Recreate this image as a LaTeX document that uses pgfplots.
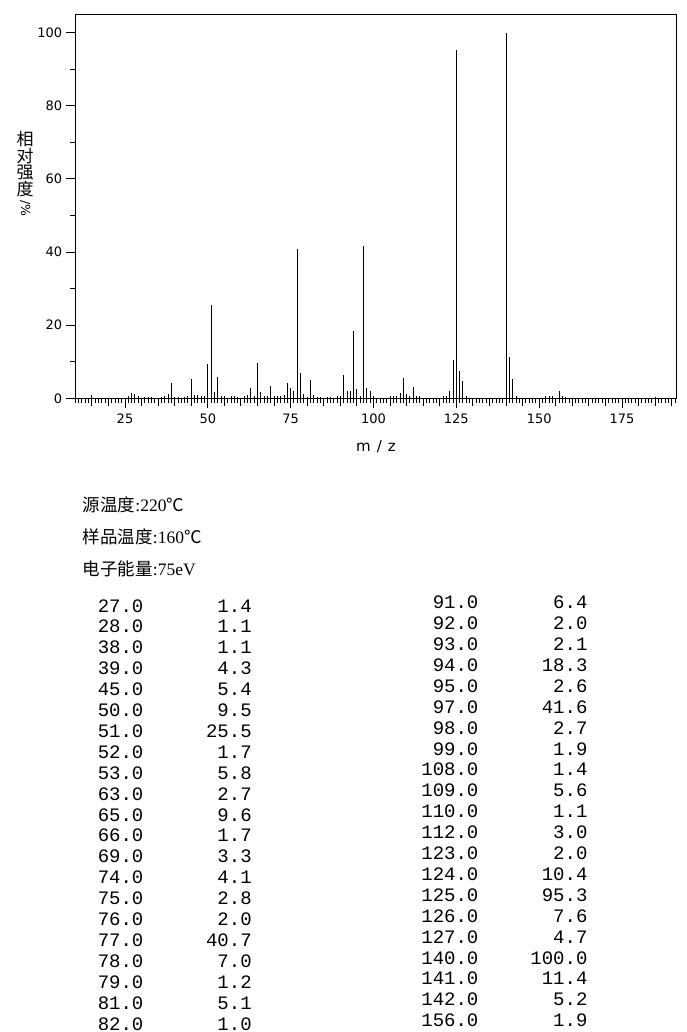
\documentclass[border=0pt]{standalone}
\usepackage{pgfplots}
\pgfplotsset{compat=1.18}
\usepackage{fontspec}
\setmainfont{DejaVu Sans}
\newfontfamily\cjk{Noto Sans CJK SC}
\newfontfamily\serif{Liberation Serif}
\newfontfamily\mono{Liberation Mono}

\pgfplotstableread{
mz  int
15 0.9
26 0.5
27 1.4
28 1.1
29 0.5
31 0.4
32 0.4
33 0.3
36 0.3
37 0.5
38 1.1
39 4.3
40 0.4
41 0.3
43 0.3
44 0.6
45 5.4
46 0.8
47 0.8
48 0.5
49 0.6
50 9.5
51 25.5
52 1.7
53 5.8
54 0.5
55 0.5
57 0.6
58 0.5
59 0.4
61 0.5
62 0.8
63 2.7
64 0.7
65 9.6
66 1.7
67 0.7
68 0.7
69 3.3
70 0.7
71 0.5
72 0.5
73 0.8
74 4.1
75 2.8
76 2.0
77 40.7
78 7.0
79 1.2
80 0.3
81 5.1
82 1.0
83 0.4
84 0.4
86 0.3
87 0.4
89 0.6
90 0.6
91 6.4
92 2.0
93 2.1
94 18.3
95 2.6
96 0.6
97 41.6
98 2.7
99 1.9
100 0.5
105 0.5
106 0.5
107 0.5
108 1.4
109 5.6
110 1.1
111 0.5
112 3.0
113 0.5
114 0.5
121 0.5
122 0.6
123 2.0
124 10.4
125 95.3
126 7.6
127 4.7
128 0.5
140 100
141 11.4
142 5.2
143 0.6
152 0.5
153 0.6
154 0.6
156 1.9
157 0.5
158 0.4
185 0.4
}\spectrum

\begin{document}
\begin{tikzpicture}[x=1pt,y=1pt]
\path[use as bounding box] (0,0) rectangle (687,-1032);
\begin{axis}[
  scale only axis,
  width=601.4pt, height=384pt,
  at={(75.3pt,-398.3pt)}, anchor=south west,
  xmin=10, xmax=191.5, ymin=0, ymax=105,
  axis line style={line width=1pt},
  every tick/.style={black, line width=1pt},
  xtick pos=bottom, ytick pos=left,
  tick align=outside,
  xtick={25,50,75,100,125,150,175},
  minor xtick={10,11,...,191},
  extra x ticks={15,20,30,35,40,45,55,60,65,70,80,85,90,95,105,110,115,120,130,135,140,145,155,160,165,170,180,185,190},
  extra x tick labels={},
  extra x tick style={major tick length=7.5pt},
  ytick={0,20,40,60,80,100},
  minor y tick num=1,
  major tick length=9.5pt,
  minor tick length=5pt,
  /pgf/number format/assume math mode=true,
  ticklabel style={font=\fontsize{13}{15}\selectfont},
  xticklabel style={yshift=-3pt},
  xlabel={m\hspace{6pt}/\hspace{6pt}z},
  xlabel style={font=\fontsize{15}{17}\selectfont, at={(axis description cs:0.5,0)}, anchor=base, yshift=-52.7pt},
  ylabel={\cjk 相\\\cjk 对\\\cjk 强\\\cjk 度\\\rotatebox[origin=c]{-90}{\fontsize{12.5}{12.5}\selectfont /\%}},
  ylabel style={rotate=-90, align=center, font=\fontsize{17}{16.8}\selectfont, at={(axis description cs:-0.0835,0.585)}, anchor=center},
]
\addplot[ycomb, black, line width=1pt, mark=none] table[x=mz, y=int] {\spectrum};
\end{axis}

\begin{scope}[every node/.style={inner sep=0pt, anchor=base west}]
\node at (82.7,-511) {\fontsize{17.5}{19}\selectfont\cjk 源温度\serif :220\cjk ℃};
\node at (82.7,-543) {\fontsize{17.5}{19}\selectfont\cjk 样品温度\serif :160\cjk ℃};
\node at (82.7,-575) {\fontsize{17.5}{19}\selectfont\cjk 电子能量\serif :75eV};
\end{scope}

\begin{scope}[every node/.style={inner sep=0pt, anchor=base east, font=\mono\fontsize{19}{21}\selectfont}]
\foreach \m/\v [count=\i from 0] in {27.0/1.4,28.0/1.1,38.0/1.1,39.0/4.3,45.0/5.4,50.0/9.5,51.0/25.5,52.0/1.7,53.0/5.8,63.0/2.7,65.0/9.6,66.0/1.7,69.0/3.3,74.0/4.1,75.0/2.8,76.0/2.0,77.0/40.7,78.0/7.0,79.0/1.2,81.0/5.1,82.0/1.0}{
  \node at (143.6,-612-20.9*\i) {\m};
  \node at (251.9,-612-20.9*\i) {\v};
}
\foreach \m/\v [count=\i from 0] in {91.0/6.4,92.0/2.0,93.0/2.1,94.0/18.3,95.0/2.6,97.0/41.6,98.0/2.7,99.0/1.9,108.0/1.4,109.0/5.6,110.0/1.1,112.0/3.0,123.0/2.0,124.0/10.4,125.0/95.3,126.0/7.6,127.0/4.7,140.0/100.0,141.0/11.4,142.0/5.2,156.0/1.9}{
  \node at (478.6,-608.7-20.9*\i) {\m};
  \node at (587.6,-608.7-20.9*\i) {\v};
}
\end{scope}
\end{tikzpicture}
\end{document}
